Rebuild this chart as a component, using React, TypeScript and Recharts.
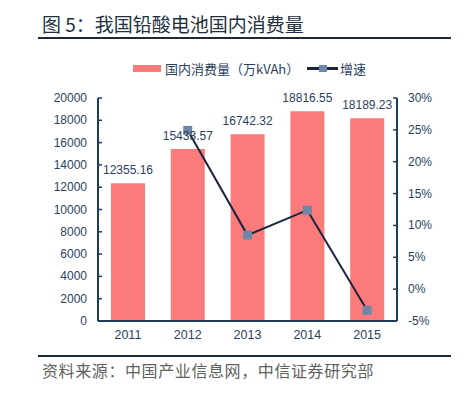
import { ComposedChart, Bar, Line, XAxis, YAxis, LabelList } from 'recharts';

const years = ['2011', '2012', '2013', '2014', '2015'];
const consumption = [12355.16, 15433.57, 16742.32, 18816.55, 18189.23];
const growth = [null, 24.92, 8.48, 12.39, -3.33];
const leftTicks = [0, 2000, 4000, 6000, 8000, 10000, 12000, 14000, 16000, 18000, 20000];
const rightTicks = [-5, 0, 5, 10, 15, 20, 25, 30];

const data = years.map((year, i) => ({ year, consumption: consumption[i], growth: growth[i] }));

const AXIS = '#1f3b5c';
const TEXT = '#2b3f5e';
const BAR = '#fb7b7b';
const LINE = '#1b2540';
const MARK = '#6f87a6';
const NUM_FONT = '"Liberation Sans", Arial, sans-serif';
const CJK_FONT = '"Noto Sans CJK SC", "Noto Sans", sans-serif';

const LeftTick = (props: any) => {
  const { x, y, payload } = props;
  return (
    <g>
      <line x1={x} y1={y} x2={x + 4} y2={y} stroke={AXIS} strokeWidth={1.5} />
      <text x={x - 11} y={y} dy={4} textAnchor="end" fill={TEXT} fontSize={12} fontFamily={NUM_FONT}>
        {payload.value}
      </text>
    </g>
  );
};

const RightTick = (props: any) => {
  const { x, y, payload } = props;
  return (
    <g>
      <line x1={x - 4} y1={y} x2={x} y2={y} stroke={AXIS} strokeWidth={1.5} />
      <text x={x + 11} y={y} dy={4} textAnchor="start" fill={TEXT} fontSize={12} fontFamily={NUM_FONT}>
        {payload.value + '%'}
      </text>
    </g>
  );
};

const SquareDot = (props: any) => {
  const { cx, cy } = props;
  if (cx == null || cy == null || props.value == null) return <g />;
  return <rect x={cx - 4.5} y={cy - 4.5} width={9} height={9} fill={MARK} />;
};

export default function App() {
  return (
    <div style={{ position: 'absolute', left: 0, top: 0, width: 470, height: 396, background: '#fff' }}>
      <div style={{ position: 'absolute', left: 42, top: 13, fontSize: 19, lineHeight: '22px', color: '#22303f', fontFamily: CJK_FONT, whiteSpace: 'nowrap' }}>
        图 5：我国铅酸电池国内消费量
      </div>
      <div style={{ position: 'absolute', left: 38, top: 37, width: 413, height: 1.5, background: '#1d2a36' }} />

      <div style={{ position: 'absolute', left: 133, top: 65, width: 28, height: 7, background: BAR }} />
      <div style={{ position: 'absolute', left: 165, top: 60, fontSize: 13, lineHeight: '18px', color: TEXT, fontFamily: CJK_FONT, whiteSpace: 'nowrap' }}>
        国内消费量（万kVAh）
      </div>
      <div style={{ position: 'absolute', left: 307, top: 67, width: 31, height: 3, background: LINE }} />
      <div style={{ position: 'absolute', left: 319, top: 65, width: 8, height: 7, background: MARK }} />
      <div style={{ position: 'absolute', left: 340, top: 60, fontSize: 13, lineHeight: '18px', color: TEXT, fontFamily: CJK_FONT, whiteSpace: 'nowrap' }}>
        增速
      </div>

      <div style={{ position: 'absolute', left: 0, top: 0 }}>
        <ComposedChart width={470} height={396} data={data} margin={{ top: 98, right: 13, left: 38, bottom: 45 }}>
          <XAxis
            dataKey="year"
            height={30}
            axisLine={{ stroke: AXIS, strokeWidth: 2 }}
            tickLine={false}
            tick={{ fill: TEXT, fontSize: 12.5, fontFamily: NUM_FONT }}
            tickMargin={3}
          />
          <YAxis
            yAxisId="left"
            width={60}
            domain={[0, 20000]}
            ticks={leftTicks}
            interval={0}
            axisLine={{ stroke: AXIS, strokeWidth: 2 }}
            tickLine={false}
            tickSize={0}
            tickMargin={0}
            tick={<LeftTick />}
          />
          <YAxis
            yAxisId="right"
            orientation="right"
            width={60}
            domain={[-5, 30]}
            ticks={rightTicks}
            interval={0}
            axisLine={{ stroke: AXIS, strokeWidth: 2 }}
            tickLine={false}
            tickSize={0}
            tickMargin={0}
            tick={<RightTick />}
          />
          <Bar yAxisId="left" dataKey="consumption" fill={BAR} barSize={34} isAnimationActive={false}>
            <LabelList
              dataKey="consumption"
              position="top"
              offset={9}
              fill={TEXT}
              fontSize={12}
              fontFamily={NUM_FONT}
              formatter={(v: any) => Number(v).toFixed(2)}
            />
          </Bar>
          <Line
            yAxisId="right"
            dataKey="growth"
            stroke={LINE}
            strokeWidth={2}
            dot={<SquareDot />}
            activeDot={false}
            connectNulls={false}
            isAnimationActive={false}
          />
        </ComposedChart>
      </div>

      <div style={{ position: 'absolute', left: 38, top: 355, width: 413, height: 1.5, background: '#1d2a36' }} />
      <div style={{ position: 'absolute', left: 42, top: 360, fontSize: 16, letterSpacing: 0.6, lineHeight: '20px', color: '#5f5f5f', fontFamily: CJK_FONT, whiteSpace: 'nowrap' }}>
        资料来源：中国产业信息网，中信证券研究部
      </div>
    </div>
  );
}
